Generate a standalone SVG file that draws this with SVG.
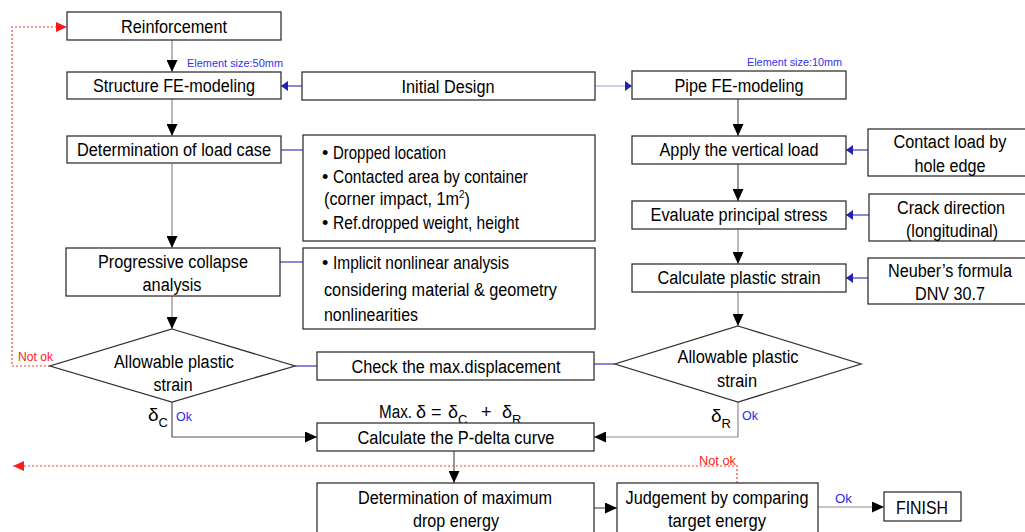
<svg xmlns="http://www.w3.org/2000/svg" width="1025" height="532" viewBox="0 0 1025 532">
<style>
.b{fill:#fff;stroke:#333;stroke-width:1.3}
.t{font-family:"Liberation Sans",Arial,sans-serif;font-size:18px;fill:#000}
.m{text-anchor:middle}
.s{font-family:"Liberation Sans",Arial,sans-serif;font-size:11.5px;fill:#3333ee}
.ok{font-family:"Liberation Sans",Arial,sans-serif;font-size:13px;fill:#2a2aee}
.no{font-family:"Liberation Sans",Arial,sans-serif;font-size:13px;fill:#ff2020}
.c{stroke:#8c8c8c;stroke-width:1.2;fill:none}
.cd{stroke:#555;stroke-width:1.2;fill:none}
.bl{stroke:#3a3ab8;stroke-width:1.2;fill:none}
.lb{stroke:#9d9de8;stroke-width:1.2;fill:none}
.rd{stroke:#ff3a3a;stroke-width:1.2;stroke-dasharray:2 2;fill:none}
</style>
<defs>
<marker id="ak" markerUnits="userSpaceOnUse" markerWidth="12" markerHeight="11" refX="12" refY="5.5" orient="auto"><path d="M0,0 L12,5.5 L0,11 z" fill="#000"/></marker>
<marker id="ab" markerUnits="userSpaceOnUse" markerWidth="7" markerHeight="10" refX="7" refY="5" orient="auto"><path d="M0,0 L7,5 L0,10 z" fill="#2222aa"/></marker>
<marker id="ar" markerUnits="userSpaceOnUse" markerWidth="11" markerHeight="10" refX="11" refY="5" orient="auto"><path d="M0,0 L11,5 L0,10 z" fill="#ff1a1a"/></marker>
</defs>
<rect width="1025" height="532" fill="#fff"/>

<g id="connectors">
<path class="c" d="M172,40 V72" marker-end="url(#ak)"/>
<path class="c" d="M172,99 V136" marker-end="url(#ak)"/>
<path class="c" d="M172,164 V248" marker-end="url(#ak)"/>
<path class="c" d="M172,296 V329" marker-end="url(#ak)"/>
<path class="bl" d="M302,86 H281" marker-end="url(#ab)"/>
<path class="lb" d="M595,86 H632" marker-end="url(#ab)"/>
<path class="cd" d="M738,99 V136" marker-end="url(#ak)"/>
<path class="cd" d="M738,164 V201" marker-end="url(#ak)"/>
<path class="c" d="M738,229 V264" marker-end="url(#ak)"/>
<path class="c" d="M738,292 V326" marker-end="url(#ak)"/>
<path class="bl" d="M868,150 H846" marker-end="url(#ab)"/>
<path class="bl" d="M869,215 H846" marker-end="url(#ab)"/>
<path class="bl" d="M868,278 H846" marker-end="url(#ab)"/>
<path class="bl" d="M281,150 H303"/>
<path class="bl" d="M280,262 H303"/>
<path class="bl" d="M295,366 H317"/>
<path class="bl" d="M594,364 H615"/>
<path class="cd" d="M172,402 V437 H317" marker-end="url(#ak)"/>
<path class="c" d="M738,402 V437 H594" marker-end="url(#ak)"/>
<path class="cd" d="M454,451 V483" marker-end="url(#ak)"/>
<path class="cd" d="M594,508 H617" marker-end="url(#ak)"/>
<path class="c" d="M818,507 H884" marker-end="url(#ak)"/>
<path class="rd" d="M50,366 H12 V27 H67" marker-end="url(#ar)"/>
<path class="rd" d="M737,483 V466 H13" marker-end="url(#ar)"/>
</g>

<g id="reinforcement"><rect class="b" x="67" y="12" width="214" height="28"/><text class="t m" x="174" y="33" textLength="106" lengthAdjust="spacingAndGlyphs">Reinforcement</text></g>
<g id="label-50mm"><text class="s" x="187" y="67" textLength="96" lengthAdjust="spacingAndGlyphs">Element size:50mm</text></g>
<g id="structure"><rect class="b" x="67" y="72" width="214" height="27"/><text class="t m" x="174" y="92" textLength="162" lengthAdjust="spacingAndGlyphs">Structure FE-modeling</text></g>
<g id="initial"><rect class="b" x="302" y="72" width="293" height="28"/><text class="t m" x="448" y="93" textLength="93" lengthAdjust="spacingAndGlyphs">Initial Design</text></g>
<g id="label-10mm"><text class="s" x="747" y="66" textLength="95" lengthAdjust="spacingAndGlyphs">Element size:10mm</text></g>
<g id="pipe"><rect class="b" x="632" y="71" width="214" height="28"/><text class="t m" x="739" y="92" textLength="129" lengthAdjust="spacingAndGlyphs">Pipe FE-modeling</text></g>

<g id="loadcase"><rect class="b" x="67" y="136" width="214" height="27"/><text class="t m" x="174" y="156" textLength="194" lengthAdjust="spacingAndGlyphs">Determination of load case</text></g>
<g id="dropped"><rect class="b" x="303" y="135" width="292" height="106"/>
<text class="t" x="322" y="159">•</text><text class="t" x="333" y="159" textLength="113" lengthAdjust="spacingAndGlyphs">Dropped location</text>
<text class="t" x="322" y="183">•</text><text class="t" x="333" y="183" textLength="195" lengthAdjust="spacingAndGlyphs">Contacted area by container</text>
<text class="t" transform="translate(324,205) scale(0.9,1)" x="0" y="0">(corner impact, 1m<tspan dy="-7" style="font-size:11px">2</tspan><tspan dy="7">)</tspan></text>
<text class="t" x="322" y="229">•</text><text class="t" x="333" y="229" textLength="186" lengthAdjust="spacingAndGlyphs">Ref.dropped weight, height</text></g>
<g id="apply"><rect class="b" x="632" y="136" width="214" height="28"/><text class="t m" x="739" y="156" textLength="159" lengthAdjust="spacingAndGlyphs">Apply the vertical load</text></g>
<g id="contact"><rect class="b" x="868" y="129" width="170" height="47"/><text class="t m" x="950" y="148" textLength="113" lengthAdjust="spacingAndGlyphs">Contact load by</text><text class="t m" x="950" y="172" textLength="71" lengthAdjust="spacingAndGlyphs">hole edge</text></g>
<g id="evaluate"><rect class="b" x="632" y="201" width="214" height="28"/><text class="t m" x="739" y="221" textLength="177" lengthAdjust="spacingAndGlyphs">Evaluate principal stress</text></g>
<g id="crack"><rect class="b" x="869" y="194" width="170" height="47"/><text class="t m" x="951" y="214" textLength="108" lengthAdjust="spacingAndGlyphs">Crack direction</text><text class="t m" x="952" y="237" textLength="92" lengthAdjust="spacingAndGlyphs">(longitudinal)</text></g>

<g id="progressive"><rect class="b" x="66" y="248" width="214" height="48"/><text class="t m" x="173" y="268" textLength="150" lengthAdjust="spacingAndGlyphs">Progressive collapse</text><text class="t m" x="172" y="291" textLength="59" lengthAdjust="spacingAndGlyphs">analysis</text></g>
<g id="implicit"><rect class="b" x="303" y="248" width="292" height="81"/>
<text class="t" x="322" y="269">•</text><text class="t" x="333" y="269" textLength="176" lengthAdjust="spacingAndGlyphs">Implicit nonlinear analysis</text>
<text class="t" x="324" y="296" textLength="233" lengthAdjust="spacingAndGlyphs">considering material &amp; geometry</text>
<text class="t" x="324" y="321" textLength="94" lengthAdjust="spacingAndGlyphs">nonlinearities</text></g>
<g id="calcplastic"><rect class="b" x="632" y="264" width="214" height="28"/><text class="t m" x="739" y="284" textLength="163" lengthAdjust="spacingAndGlyphs">Calculate plastic strain</text></g>
<g id="neuber"><rect class="b" x="868" y="258" width="170" height="46"/><text class="t m" x="950" y="277" textLength="124" lengthAdjust="spacingAndGlyphs">Neuber’s formula</text><text class="t m" x="950" y="300" textLength="70" lengthAdjust="spacingAndGlyphs">DNV 30.7</text></g>

<g id="diamond-left"><polygon class="b" points="172,329 295,366 172,402 50,366"/><text class="t m" x="174" y="368" textLength="120" lengthAdjust="spacingAndGlyphs">Allowable plastic</text><text class="t m" x="173" y="391" textLength="39" lengthAdjust="spacingAndGlyphs">strain</text></g>
<g id="check"><rect class="b" x="317" y="352" width="277" height="28"/><text class="t m" x="456" y="373" textLength="209" lengthAdjust="spacingAndGlyphs">Check the max.displacement</text></g>
<g id="diamond-right"><polygon class="b" points="738,326 861,364 738,402 615,364"/><text class="t m" x="738" y="363" textLength="121" lengthAdjust="spacingAndGlyphs">Allowable plastic</text><text class="t m" x="737" y="387" textLength="40" lengthAdjust="spacingAndGlyphs">strain</text></g>

<g id="labels">
<text class="no" x="18" y="361" textLength="35" lengthAdjust="spacingAndGlyphs">Not ok</text>
<text class="t" x="148" y="421" style="font-size:19px">δ<tspan dy="6" style="font-size:13px">C</tspan></text>
<text class="ok" x="176" y="421" textLength="16" lengthAdjust="spacingAndGlyphs">Ok</text>
<text class="t" x="711" y="422" style="font-size:19px">δ<tspan dy="6" style="font-size:13px">R</tspan></text>
<text class="ok" x="742" y="420" textLength="16" lengthAdjust="spacingAndGlyphs">Ok</text>
<text class="t" x="379" y="418" textLength="33" lengthAdjust="spacingAndGlyphs">Max.</text>
<text class="t" x="416" y="418">δ =</text>
<text class="t" x="448" y="418">δ<tspan dy="6" style="font-size:13px">C</tspan></text>
<text class="t" x="481" y="418">+</text>
<text class="t" x="502" y="418">δ<tspan dy="6" style="font-size:13px">R</tspan></text>
<text class="no" x="699" y="465" textLength="37" lengthAdjust="spacingAndGlyphs">Not ok</text>
<text class="ok" x="835" y="503" textLength="17" lengthAdjust="spacingAndGlyphs">Ok</text>
</g>

<g id="pdelta"><rect class="b" x="317" y="423" width="277" height="28"/><text class="t m" x="456" y="444" textLength="197" lengthAdjust="spacingAndGlyphs">Calculate the P-delta curve</text></g>
<g id="maxenergy"><rect class="b" x="317" y="483" width="277" height="60"/><text class="t m" x="455" y="504" textLength="194" lengthAdjust="spacingAndGlyphs">Determination of maximum</text><text class="t m" x="456" y="527" textLength="86" lengthAdjust="spacingAndGlyphs">drop energy</text></g>
<g id="judgement"><rect class="b" x="617" y="483" width="201" height="60"/><text class="t m" x="717" y="504" textLength="183" lengthAdjust="spacingAndGlyphs">Judgement by comparing</text><text class="t m" x="717" y="527" textLength="98" lengthAdjust="spacingAndGlyphs">target energy</text></g>
<g id="finish"><rect class="b" x="884" y="492" width="77" height="29"/><text class="t m" x="922" y="514" textLength="52" lengthAdjust="spacingAndGlyphs">FINISH</text></g>
</svg>
